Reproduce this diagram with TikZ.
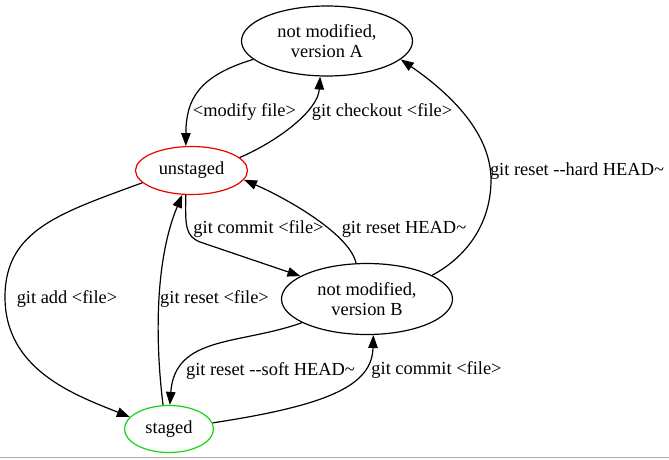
\documentclass[tikz,border=0pt]{standalone}
\usepackage{fontspec}
\setmainfont{Liberation Serif}
\usetikzlibrary{arrows.meta,shapes.geometric}
\definecolor{grn}{RGB}{20,215,20}
\definecolor{rd}{RGB}{235,0,0}
\definecolor{bordergray}{RGB}{175,175,175}
\begin{document}
\begin{tikzpicture}[x=1pt,y=-1pt,
  state/.style={ellipse,draw,line width=1.2pt,inner sep=0pt,align=center,font=\fontsize{18.4}{20}\selectfont},
  lbl/.style={inner sep=0pt,font=\fontsize{18.4}{20}\selectfont},
  conn/.style={line width=1.2pt,-{Triangle[length=13pt,width=9.5pt]}}]
\useasboundingbox (0,0) rectangle (669,459);
\fill[white] (0,0) rectangle (669,459);
\draw[bordergray,line width=1.2pt] (0,457.6) -- (669,457.6);

\node[state,minimum width=171pt,minimum height=70pt] (A) at (327,41) {not modified,\\version A};
\node[state,draw=rd,minimum width=112pt,minimum height=48pt] (U) at (191.5,170.5) {unstaged};
\node[state,minimum width=171pt,minimum height=71pt] (B) at (367,299) {not modified,\\version B};
\node[state,draw=grn,minimum width=89pt,minimum height=47pt] (S) at (169,429) {staged};

\draw[conn] (A.194) .. controls (198,76) and (186,100) .. (U.103);
\draw[conn] (U.15) .. controls (280,140) and (318,110) .. (A.259);
\draw[conn] (U.194) .. controls (60,213) and (5,230) .. (5,297) .. controls (5,370) and (75,395) .. (S.163);
\draw[conn] (S.104) .. controls (155,340) and (155,260) .. (U.249);
\draw[conn] (U.257) .. controls (185,228) and (186,236) .. (200,242) -- (B.161);
\draw[conn] (B.107) .. controls (350,235) and (290,200) .. (U.350);
\draw[conn] (B.20) .. controls (470,255) and (491,220) .. (491,180) .. controls (491,130) and (445,90) .. (A.346);
\draw[conn] (B.200) .. controls (240,345) and (175,335) .. (S.88);
\draw[conn] (S.8) .. controls (330,405) and (372,385) .. (B.280);

\node[lbl] (l1) at (244.5,112) {<modify file>};
\node[lbl] (l2) at (382,112) {git checkout <file>};
\node[lbl] (l3) at (67,299) {git add <file>};
\node[lbl] (l4) at (214.5,299) {git reset <file>};
\node[lbl] (l5) at (258.5,229) {git commit <file>};
\node[lbl] (l6) at (404,229) {git reset HEAD\textasciitilde};
\node[lbl] (l7) at (577,171) {git reset -\kern0pt-hard HEAD\textasciitilde};
\node[lbl] (l8) at (270.5,371) {git reset -\kern0pt-soft HEAD\textasciitilde};
\node[lbl] (l9) at (436.5,370) {git commit <file>};
\end{tikzpicture}
\end{document}
